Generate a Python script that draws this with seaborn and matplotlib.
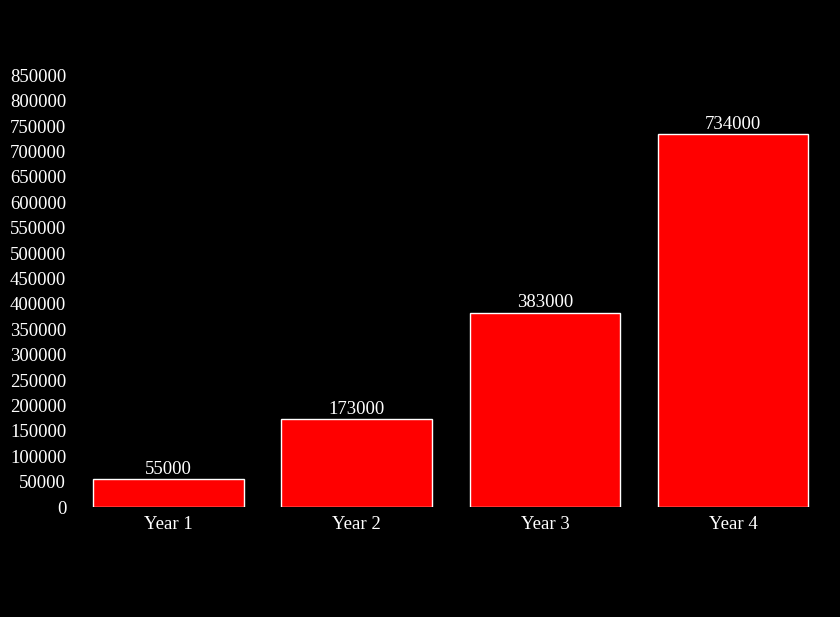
import matplotlib
matplotlib.use("Agg")
import matplotlib.pyplot as plt
import seaborn as sns
import pandas as pd

years = ["Year 1", "Year 2", "Year 3", "Year 4"]
values = [55000, 173000, 383000, 734000]
ticks = list(range(0, 850001, 50000))

sns.set_style("dark")
plt.rcParams["font.family"] = ["Liberation Serif", "DejaVu Serif"]

df = pd.DataFrame({"year": years, "value": values})

fig = plt.figure(figsize=(8.4, 6.17), dpi=100, facecolor="black")
ax = fig.add_axes([0.0887, 0.178, 0.896, 0.7])
ax.set_facecolor("black")
sns.barplot(data=df, x="year", y="value", color="#ff0000", saturation=1, width=0.8, ax=ax)

ax.set_ylim(0, 850000)
ax.set_xlim(-0.5, 3.5)
ax.set_yticks(ticks)
ax.set_yticklabels([str(t) for t in ticks])
ax.tick_params(colors="white", labelsize=13.5, length=0, pad=6)
ax.set_xlabel("")
ax.set_ylabel("")
ax.grid(False)
for s in ax.spines.values():
    s.set_visible(False)

for c in ax.containers:
    ax.bar_label(c, labels=[str(v) for v in values], color="white", fontsize=13.5, padding=1)

fig.savefig("out.png", facecolor="black")
